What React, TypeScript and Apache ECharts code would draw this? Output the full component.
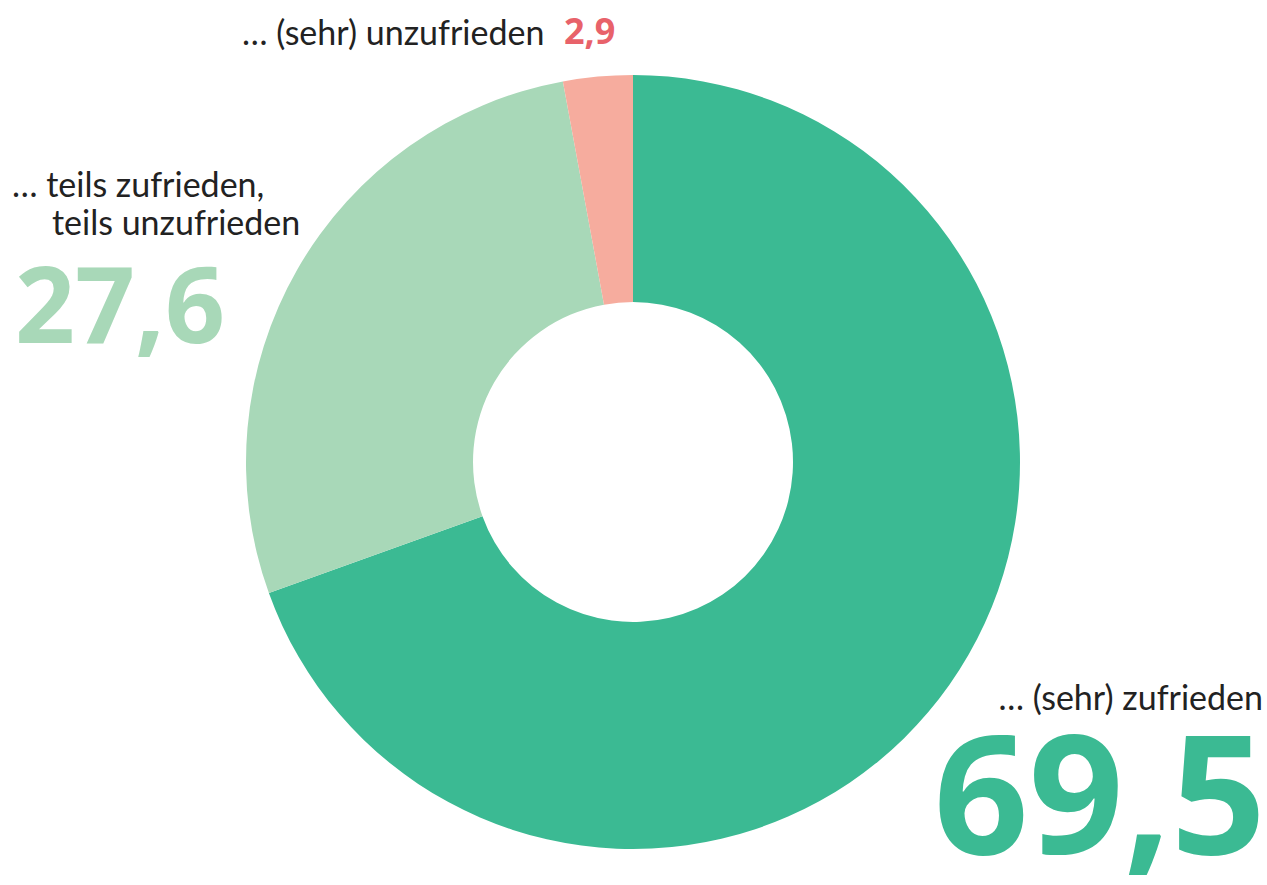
import React, { useEffect, useRef } from "react";
import * as echarts from "echarts";

const categories = ["… (sehr) zufrieden", "… teils zufrieden, teils unzufrieden", "… (sehr) unzufrieden"];
const values = [69.5, 27.6, 2.9];
const valueLabels = ["69,5", "27,6", "2,9"];
const colors = ["#3bba93", "#a8d8b8", "#f6ac9e"];
const labelColors = ["#3bba93", "#a8d8b8", "#e8626a"];

const FONT = "Lato, 'Noto Sans', sans-serif";
const NUM_FONT = "'Noto Sans', 'Open Sans', sans-serif";

// y given as baseline; text is placed by its middle with a tight line box
function txt(text: string, x: number, baseline: number, size: number, weight: string, fill: string, align: string, family = FONT, lh = 1.0) {
  return {
    type: "text",
    x,
    y: baseline - size * 0.39,
    style: {
      text,
      fontSize: size,
      fontWeight: weight,
      fontFamily: family,
      lineHeight: size * lh,
      fill,
      align,
      verticalAlign: "middle",
    },
  };
}

export default function App() {
  const ref = useRef<HTMLDivElement>(null);
  useEffect(() => {
    if (!ref.current) return;
    const chart = echarts.init(ref.current, null, { renderer: "svg" });
    chart.setOption({
      animation: false,
      backgroundColor: "#ffffff",
      series: [
        {
          type: "pie",
          center: [633, 462],
          radius: [160, 387],
          startAngle: 90,
          clockwise: true,
          label: { show: false },
          labelLine: { show: false },
          emphasis: { disabled: true },
          itemStyle: { borderWidth: 0 },
          data: categories.map((name, i) => ({
            name,
            value: values[i],
            itemStyle: { color: colors[i] },
          })),
        },
      ],
      graphic: [
        txt("… (sehr) unzufrieden", 242, 45, 34, "normal", "#222", "left"),
        txt(valueLabels[2], 564, 45, 36, "bold", labelColors[2], "left", NUM_FONT, 0.8),
        txt("… teils zufrieden,", 12, 197, 34, "normal", "#222", "left"),
        txt("teils unzufrieden", 52, 235, 34, "normal", "#222", "left"),
        txt(valueLabels[1], 15, 343, 105, "bold", labelColors[1], "left", NUM_FONT, 0.75),
        txt("… (sehr) zufrieden", 1263, 710, 34, "normal", "#222", "right"),
        txt(valueLabels[0], 1266, 855, 166, "bold", labelColors[0], "right", NUM_FONT, 0.75),
      ],
    });
    return () => chart.dispose();
  }, []);
  return (
    <div
      ref={ref}
      style={{ position: "absolute", left: 0, top: 0, width: 1267, height: 885 }}
    />
  );
}
